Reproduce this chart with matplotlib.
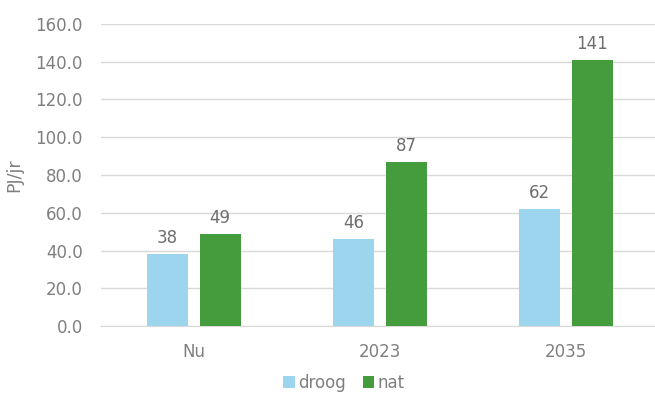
import matplotlib.pyplot as plt
import numpy as np

# categorieen en waarden (PJ/jr)
categories = ['Nu', '2023', '2035']
droog = [38, 46, 62]
nat = [49, 87, 141]

grey = '#7f7f7f'
plt.rcParams['font.family'] = 'DejaVu Sans'

fig = plt.figure(figsize=(6.55, 3.95), dpi=100)
ax = fig.add_axes([101 / 655, 1 - 326 / 395, 1 - 101 / 655, (326 - 24) / 395])

x = np.arange(len(categories))
w = 0.22
b1 = ax.bar(x - 0.142, droog, w, color='#9dd5ee', label='droog', zorder=3)
b2 = ax.bar(x + 0.14, nat, w, color='#449c3c', label='nat', zorder=3)

for bars in (b1, b2):
    for r in bars:
        ax.annotate(f'{r.get_height():.0f}', (r.get_x() + r.get_width() / 2, r.get_height()),
                    xytext=(0, 5), textcoords='offset points', ha='center', va='bottom',
                    color='#6e6e6e', fontsize=12)

ax.set_ylim(0, 160)
ax.set_yticks(np.arange(0, 161, 20))
ax.set_yticklabels([f'{v:.1f}' for v in np.arange(0, 161, 20)])
ax.set_xlim(-0.5, 2.478)
ax.set_xticks(x)
ax.set_xticklabels(categories)
ax.tick_params(length=0, colors=grey, labelsize=12)
ax.tick_params(axis='y', pad=13)
ax.tick_params(axis='x', pad=12)
ax.grid(axis='y', color='#d9d9d9', linewidth=1, zorder=0)
for s in ['top', 'right', 'left']:
    ax.spines[s].set_visible(False)
ax.spines['bottom'].set_color('#d9d9d9')
ax.set_ylabel('PJ/jr', color=grey, fontsize=12.5, labelpad=9)

fig.legend(loc='lower center', bbox_to_anchor=(0.525, -0.03), ncol=2, frameon=False,
           fontsize=12, labelcolor=grey, handlelength=0.7, handleheight=0.7,
           handletextpad=0.2, columnspacing=1.0)

fig.savefig('out.png', dpi=100)
